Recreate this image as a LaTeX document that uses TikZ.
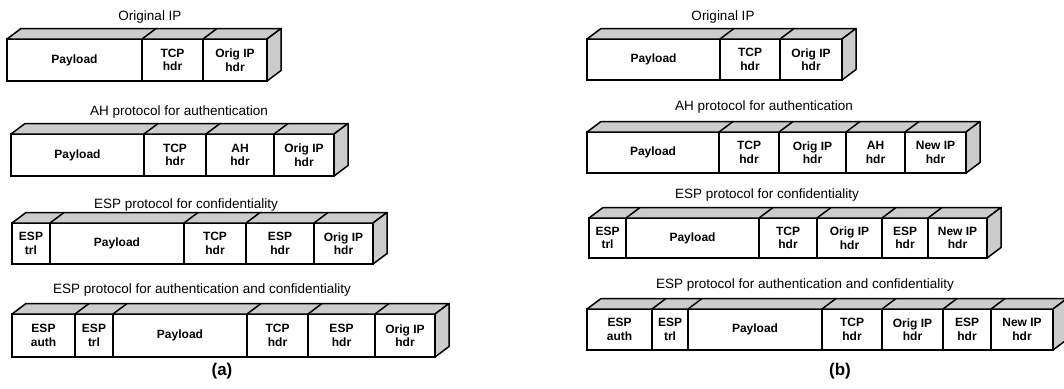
\documentclass[tikz,border=0pt]{standalone}
\usepackage{fontspec}
\setmainfont{Liberation Sans}
\tikzset{
  cell/.style={draw, fill=white, line width=1.5pt, outer sep=0pt, inner sep=0pt,
    align=center, font=\bfseries\fontsize{12}{13.5}\selectfont},
  face/.style={fill=black!20, draw, line width=1.5pt, line join=round},
  divider/.style={draw, line width=1.5pt, line cap=round},
  rowtitle/.style={font=\fontsize{13.5}{16}\selectfont, inner sep=0pt},
  paneltag/.style={font=\bfseries\fontsize{17}{20}\selectfont, inner sep=0pt},
}
% depth of the 3-D look
\def\ddx{14}
\def\ddy{10.5}
% #1 row name, #2 top y, #3 height, #4 number of cells, #5 list xleft/xright/label
\newcommand\pktrow[5]{%
  \foreach \xa/\xb/\lab [count=\i] in {#5} {
    \pgfmathsetmacro\cw{\xb-\xa}
    \node[cell, minimum width=\cw pt, minimum height=#3pt, anchor=north west]
      (#1-\i) at (\xa,#2) {\lab};
  }
  \path[face] (#1-1.north west) -- ++(\ddx,-\ddy)
    -- ([shift={(\ddx,-\ddy)}]#1-#4.north east) -- (#1-#4.north east) -- cycle;
  \path[face] (#1-#4.north east) -- ++(\ddx,-\ddy)
    -- ([shift={(\ddx,-\ddy)}]#1-#4.south east) -- (#1-#4.south east) -- cycle;
  \pgfmathtruncatemacro\nlast{#4-1}
  \foreach \j in {1,...,\nlast} {
    \path[divider] (#1-\j.north east) -- ++(\ddx,-\ddy);
  }
}
\begin{document}
\begin{tikzpicture}[x=1pt, y=-1pt]
\clip (0,0) rectangle (1064,388);

% ---- (a) transport mode ----
\node[rowtitle] (ta1) at (150,17) {Original IP};
\pktrow{a1}{39}{42}{3}{7/142/Payload, 142/203/TCP\\hdr, 203/267/Orig IP\\hdr}

\node[rowtitle] (ta2) at (179,112) {AH protocol for authentication};
\pktrow{a2}{134}{42}{4}{11/144/Payload, 144/206/TCP\\hdr, 206/274/AH\\hdr, 274/334/Orig IP\\hdr}

\node[rowtitle] (ta3) at (186,205) {ESP protocol for confidentiality};
\pktrow{a3}{223}{41}{5}{12/50/ESP\\trl, 50/184/Payload, 184/246/TCP\\hdr, 246/314/ESP\\hdr, 314/373/Orig IP\\hdr}

\node[rowtitle] (ta4) at (202,290) {ESP protocol for authentication and confidentiality};
\pktrow{a4}{314}{43}{6}{12/75/ESP\\auth, 75/113/ESP\\trl, 113/247/Payload, 247/308/TCP\\hdr, 308/375/ESP\\hdr, 375/435/Orig IP\\hdr}

\node[paneltag] (capa) at (222,371) {(a)};

% ---- (b) tunnel mode ----
\node[rowtitle] (tb1) at (723,17) {Original IP};
\pktrow{b1}{39}{41}{3}{587/720/Payload, 720/780/TCP\\hdr, 780/842/Orig IP\\hdr}

\node[rowtitle] (tb2) at (764,107) {AH protocol for authentication};
\pktrow{b2}{132}{41}{5}{587/719/Payload, 719/779/TCP\\hdr, 779/846/Orig IP\\hdr, 846/905/AH\\hdr, 905/966/New IP\\hdr}

\node[rowtitle] (tb3) at (767,195) {ESP protocol for confidentiality};
\pktrow{b3}{218}{40}{6}{589/626/ESP\\trl, 626/759/Payload, 759/817/TCP\\hdr, 817/882/Orig IP\\hdr, 882/928/ESP\\hdr, 928/987/New IP\\hdr}

\node[rowtitle] (tb4) at (805,285) {ESP protocol for authentication and confidentiality};
\pktrow{b4}{309}{41}{7}{587/652/ESP\\auth, 652/688/ESP\\trl, 688/822/Payload, 822/882/TCP\\hdr, 882/943/Orig IP\\hdr, 943/991/ESP\\hdr, 991/1053/New IP\\hdr}

\node[paneltag] (capb) at (840,371) {(b)};
\end{tikzpicture}
\end{document}
